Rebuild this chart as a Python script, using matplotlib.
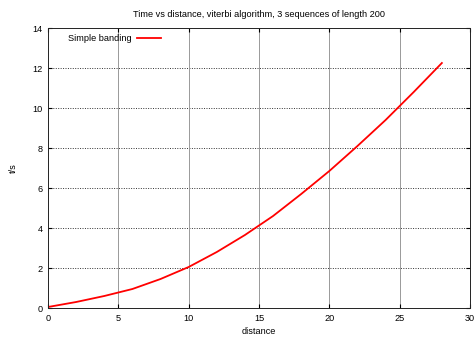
import matplotlib
matplotlib.use("Agg")
import matplotlib.pyplot as plt

# distance vs time (seconds)
distance = [0, 2, 4, 6, 8, 10, 12, 14, 16, 18, 20, 22, 24, 26, 28]
time_s = [0.05, 0.3, 0.6, 0.95, 1.45, 2.05, 2.8, 3.65, 4.6, 5.7, 6.85, 8.1, 9.4, 10.8, 12.25]

x_ticks = [0, 5, 10, 15, 20, 25, 30]
y_ticks = [0, 2, 4, 6, 8, 10, 12, 14]

FS = 6.6
plt.rcParams['font.family'] = ['Liberation Sans', 'DejaVu Sans']
plt.rcParams['font.size'] = FS

fig = plt.figure(figsize=(4.76, 3.38), dpi=100)
ax = fig.add_axes([48 / 476, 30 / 338, 422 / 476, 280 / 338])

ax.plot(distance, time_s, color='red', lw=1.3, label='Simple banding')

ax.set_xlim(0, 30)
ax.set_ylim(0, 14)
ax.set_xticks(x_ticks)
ax.set_yticks(y_ticks)

# gnuplot-ish grid: dotted horizontals, faint verticals
for y in y_ticks[1:-1]:
    ax.axhline(y, color='#333333', lw=0.7, ls=(0, (1, 1.5)), zorder=0)
for x in x_ticks[1:-1]:
    ax.axvline(x, color='#999999', lw=0.7, zorder=0)

ax.tick_params(direction='in', length=3, width=0.8, top=True, right=True,
               labelsize=FS, pad=4)
for s in ax.spines.values():
    s.set_linewidth(0.7)
    s.set_color('#222222')

ax.set_xlabel('distance', fontsize=FS, labelpad=3)
ax.set_ylabel('t/s', fontsize=FS, labelpad=10)
ax.set_title('Time vs distance, viterbi algorithm, 3 sequences of length 200',
             fontsize=FS, pad=8)

ax.legend(loc='upper left', frameon=False, markerfirst=False, handlelength=2.7,
          handletextpad=0.5, fontsize=FS, borderaxespad=0.3,
          bbox_to_anchor=(0.033, 1.0))

fig.savefig('out.png', dpi=100)
